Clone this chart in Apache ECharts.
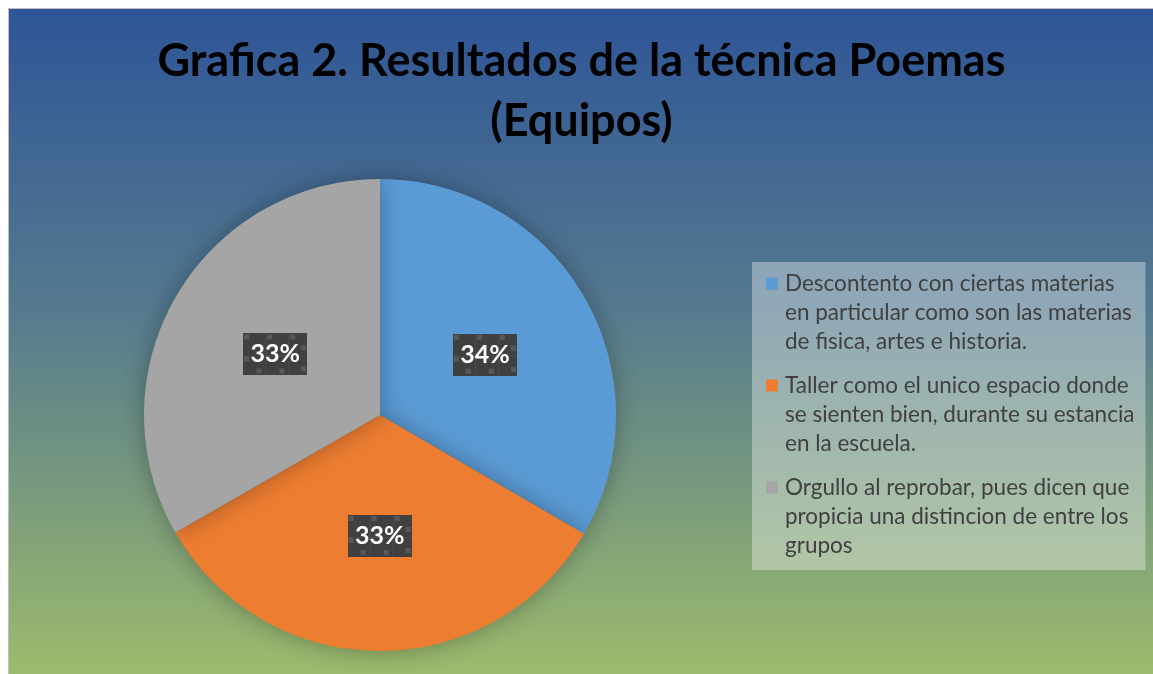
<!DOCTYPE html>
<html>
<head>
<meta charset="utf-8">
<script src="https://cdn.jsdelivr.net/npm/echarts@6/dist/echarts.min.js"></script>
<style>
  html, body { margin: 0; padding: 0; background: #fff; }
  #frame {
    position: absolute; left: 8px; top: 8px;
    border-left: 1px solid #bfbfbf; border-top: 1px solid #bfbfbf;
  }
  #chart { width: 1145px; height: 666px; }
</style>
</head>
<body>
<div id="frame"><div id="chart"></div></div>
<script>
const titleLines = ['Grafica 2. Resultados de la técnica Poemas', '(Equipos)'];
const categories = [
  'Descontento con ciertas materias\nen particular como son las materias\nde fisica, artes e historia.',
  'Taller como el unico espacio donde\nse sienten bien, durante su estancia\nen la escuela.',
  'Orgullo al reprobar, pues dicen que\npropicia una distincion de entre los\ngrupos',
];
const values = [33.4, 33.3, 33.3];
const colors = ['#5b9bd5', '#ed7d31', '#a5a5a5'];

// dark label box with the little squares pattern
function makePattern() {
  const c = document.createElement('canvas');
  c.width = 64; c.height = 42;
  const ctx = c.getContext('2d');
  ctx.fillStyle = '#404040';
  ctx.fillRect(0, 0, 64, 42);
  ctx.strokeStyle = '#4c4c4c';
  ctx.lineWidth = 1;
  [22.5, 45.5].forEach((x) => { ctx.beginPath(); ctx.moveTo(x, 0); ctx.lineTo(x, 42); ctx.stroke(); });
  ctx.beginPath(); ctx.moveTo(0, 22.5); ctx.lineTo(64, 22.5); ctx.stroke();
  ctx.fillStyle = '#595959';
  [[1, 1], [24, 1], [47, 1], [58, 12], [58, 33], [13, 35], [36, 35], [1, 23]].forEach(([x, y]) => {
    ctx.fillRect(x, y, 5, 5);
  });
  return c;
}

const chart = echarts.init(document.getElementById('chart'));
const rich = { sp: { width: 19, height: 12 } };
colors.forEach((c, i) => {
  rich['sq' + i] = { width: 12, height: 12, backgroundColor: c };
  rich['gap' + i] = { width: 7 };
});

const option = {
  backgroundColor: {
    type: 'linear', x: 0, y: 0, x2: 0, y2: 1,
    colorStops: [
      { offset: 0, color: '#2e5597' },
      { offset: 0.45, color: '#557a8f' },
      { offset: 1, color: '#9dbb6c' },
    ],
  },
  color: colors,
  title: {
    text: titleLines.join('\n'),
    left: 'center',
    top: 22,
    padding: 0,
    textStyle: {
      fontFamily: 'Lato',
      fontWeight: 'bold',
      fontSize: 45,
      lineHeight: 60,
      color: '#000',
    },
  },
  legend: {
    orient: 'vertical',
    left: 743,
    top: 253,
    itemWidth: 0,
    itemHeight: 0,
    itemGap: 15,
    padding: [7, 11, 10, 9],
    backgroundColor: 'rgba(255,255,255,0.35)',
    selectedMode: false,
    formatter: (name) => {
      const i = categories.indexOf(name);
      const lines = name.split('\n');
      return lines.map((l, k) => (k === 0 ? '{sq' + i + '|}{gap' + i + '|}' : '{sp|}') + l).join('\n');
    },
    textStyle: {
      fontFamily: 'Lato',
      fontSize: 22.5,
      lineHeight: 29,
      color: '#404040',
      rich: rich,
    },
    data: categories,
  },
  series: [
    {
      type: 'pie',
      center: [371, 406],
      radius: 236,
      startAngle: 90,
      clockwise: true,
      percentPrecision: 0,
      animation: false,
      itemStyle: {
        shadowBlur: 25,
        shadowColor: 'rgba(0,0,0,0.3)',
      },
      label: {
        position: 'inside',
        formatter: '{d}%',
        fontFamily: 'Lato',
        fontWeight: 'bold',
        fontSize: 25,
        color: '#fff',
        width: 64,
        height: 42,
        lineHeight: 42,
        align: 'center',
        verticalAlign: 'middle',
        backgroundColor: { image: makePattern() },
        shadowBlur: 6,
        shadowOffsetX: 4,
        shadowOffsetY: 4,
        shadowColor: 'rgba(0,0,0,0.45)',
      },
      labelLine: { show: false },
      emphasis: { disabled: true },
      data: categories.map((name, i) => ({ name: name, value: values[i] })),
    },
  ],
};
chart.setOption(option);
window.addEventListener('resize', () => {
  chart.resize();
});
</script>
</body>
</html>
